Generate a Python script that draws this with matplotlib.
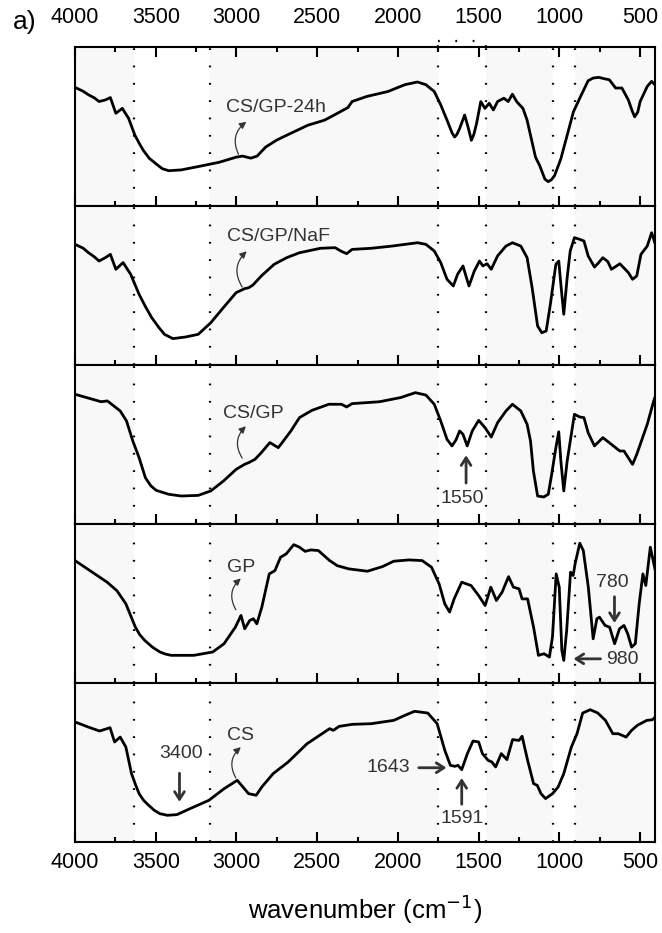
import matplotlib
matplotlib.use("Agg")
import matplotlib.pyplot as plt
from matplotlib.patches import FancyArrowPatch
from matplotlib.ticker import MultipleLocator

plt.rcParams['font.family'] = ['Liberation Sans', 'DejaVu Sans']

# ---------------- data (relative transmittance within each panel) ----------------
cs_gp24_wn = [4000, 3950, 3916, 3880, 3851, 3812, 3781, 3747, 3707, 3668, 3629, 3600, 3577, 3540, 3498,
              3460, 3420, 3342, 3237, 3107, 3002, 2963, 2911, 2872, 2819, 2750, 2689, 2558, 2454, 2375,
              2310, 2284, 2193, 2062, 1957, 1879, 1827, 1775, 1735, 1696, 1665, 1649, 1635, 1618, 1587,
              1566, 1545, 1530, 1513, 1487, 1461, 1435, 1409, 1383, 1344, 1317, 1291, 1265, 1226, 1200,
              1179, 1148, 1122, 1090, 1069, 1050, 1030, 991, 952, 913, 874, 822, 790, 756, 720, 691,
              652, 613, 573, 550, 534, 515, 500, 456, 429, 409]
cs_gp24_t = [0.746, 0.722, 0.699, 0.680, 0.657, 0.667, 0.682, 0.583, 0.614, 0.551, 0.445, 0.390, 0.350, 0.300, 0.265,
             0.235, 0.222, 0.227, 0.248, 0.275, 0.307, 0.314, 0.301, 0.314, 0.371, 0.415, 0.445, 0.508, 0.540, 0.583,
             0.619, 0.657, 0.689, 0.720, 0.763, 0.780, 0.763, 0.720, 0.636, 0.540, 0.460, 0.434, 0.450, 0.487, 0.572,
             0.498, 0.413, 0.450, 0.519, 0.657, 0.614, 0.646, 0.604, 0.657, 0.678, 0.657, 0.703, 0.657, 0.614, 0.540,
             0.445, 0.307, 0.254, 0.169, 0.153, 0.165, 0.191, 0.297, 0.445, 0.593, 0.678, 0.788, 0.805, 0.809, 0.800, 0.794,
             0.742, 0.742, 0.667, 0.600, 0.561, 0.590, 0.657, 0.752, 0.784, 0.763]

cs_gp_naf_wn = [4000, 3950, 3916, 3880, 3851, 3812, 3781, 3747, 3702, 3655, 3603, 3560, 3525, 3480, 3446,
                3394, 3316, 3237, 3159, 3081, 3002, 2950, 2924, 2898, 2846, 2767, 2689, 2610, 2480, 2389,
                2354, 2318, 2284, 2166, 2036, 1879, 1827, 1775, 1735, 1696, 1657, 1631, 1597, 1579, 1560,
                1527, 1495, 1474, 1448, 1422, 1383, 1331, 1291, 1239, 1200, 1169, 1135, 1109, 1082, 1056,
                1022, 1004, 991, 973, 952, 933, 907, 874, 848, 822, 783, 760, 731, 700, 678, 650, 626,
                600, 573, 547, 521, 495, 456, 429, 409]
cs_gp_naf_t = [0.759, 0.735, 0.706, 0.680, 0.654, 0.675, 0.696, 0.602, 0.644, 0.570, 0.444, 0.360, 0.298, 0.235, 0.193,
               0.166, 0.176, 0.193, 0.266, 0.361, 0.455, 0.480, 0.486, 0.503, 0.560, 0.633, 0.675, 0.706, 0.734, 0.738,
               0.717, 0.700, 0.727, 0.734, 0.748, 0.769, 0.759, 0.717, 0.644, 0.539, 0.497, 0.570, 0.623, 0.560, 0.497,
               0.591, 0.654, 0.623, 0.637, 0.602, 0.686, 0.748, 0.769, 0.748, 0.675, 0.486, 0.245, 0.203, 0.214, 0.382,
               0.633, 0.654, 0.507, 0.319, 0.549, 0.717, 0.801, 0.790, 0.780, 0.686, 0.616, 0.640, 0.675, 0.650, 0.602,
               0.620, 0.637, 0.610, 0.581, 0.539, 0.560, 0.696, 0.748, 0.832, 0.769]

cs_gp_wn = [4000, 3890, 3838, 3799, 3773, 3720, 3681, 3642, 3603, 3564, 3530, 3498, 3420, 3342, 3237,
            3159, 3081, 3002, 2950, 2924, 2885, 2846, 2793, 2741, 2663, 2610, 2532, 2428, 2349,
            2318, 2284, 2114, 1984, 1892, 1827, 1775, 1735, 1696, 1665, 1640, 1618, 1597, 1571, 1540,
            1500, 1461, 1422, 1383, 1331, 1291, 1239, 1200, 1179, 1161, 1135, 1096, 1069, 1048,
            1022, 1004, 991, 973, 952, 907, 874, 848, 822, 783, 731, 678, 626, 600, 547, 521,
            456, 416, 409]
cs_gp_t = [0.816, 0.784, 0.769, 0.774, 0.753, 0.711, 0.648, 0.522, 0.417, 0.291, 0.240, 0.212, 0.187, 0.176, 0.180,
           0.208, 0.270, 0.344, 0.375, 0.386, 0.407, 0.449, 0.512, 0.480, 0.585, 0.669, 0.715, 0.753, 0.753,
           0.736, 0.757, 0.769, 0.795, 0.826, 0.811, 0.753, 0.648, 0.532, 0.491, 0.530, 0.585, 0.564, 0.491, 0.585,
           0.652, 0.606, 0.547, 0.637, 0.711, 0.753, 0.711, 0.627, 0.522, 0.333, 0.176, 0.170, 0.187, 0.312,
           0.480, 0.580, 0.396, 0.208, 0.396, 0.690, 0.673, 0.669, 0.574, 0.491, 0.543, 0.501, 0.459, 0.459,
           0.375, 0.438, 0.627, 0.774, 0.795]

gp_wn = [4000, 3801, 3740, 3685, 3626, 3600, 3568, 3520, 3474, 3440, 3404, 3264, 3147, 3077, 3007, 2972,
         2949, 2918, 2895, 2874, 2843, 2797, 2762, 2727, 2692, 2645, 2610, 2575, 2540, 2493, 2423, 2376,
         2306, 2189, 2096, 2026, 1932, 1850, 1792, 1745, 1710, 1680, 1652, 1605, 1547, 1500, 1460, 1425,
         1390, 1355, 1315, 1285, 1250, 1231, 1197, 1160, 1130, 1095, 1062, 1043, 1020, 1001, 985, 973,
         955, 931, 915, 903, 874, 852, 821, 791, 768, 752, 717, 689, 658, 628, 600, 577, 553,
         530, 506, 483, 465, 437, 407]
gp_t = [0.770, 0.634, 0.580, 0.498, 0.351, 0.305, 0.268, 0.225, 0.195, 0.182, 0.174, 0.174, 0.195, 0.247, 0.351, 0.425,
        0.341, 0.393, 0.404, 0.372, 0.477, 0.686, 0.707, 0.791, 0.812, 0.870, 0.854, 0.828, 0.837, 0.833, 0.770, 0.738,
        0.718, 0.703, 0.732, 0.766, 0.774, 0.770, 0.728, 0.623, 0.498, 0.446, 0.529, 0.634, 0.613, 0.550, 0.487, 0.603,
        0.519, 0.571, 0.669, 0.603, 0.592, 0.529, 0.529, 0.351, 0.174, 0.184, 0.163, 0.289, 0.686, 0.603, 0.205, 0.142,
        0.331, 0.697, 0.676, 0.749, 0.879, 0.833, 0.603, 0.278, 0.404, 0.414, 0.362, 0.351, 0.247, 0.341, 0.362,
        0.310, 0.226, 0.247, 0.498, 0.686, 0.613, 0.854, 0.711]

cs_wn = [4000, 3918, 3848, 3801, 3783, 3755, 3720, 3685, 3650, 3625, 3603, 3575, 3544, 3510, 3474, 3428,
         3369, 3287, 3171, 3077, 2995, 2960, 2925, 2878, 2843, 2773, 2680, 2563, 2423, 2400, 2365, 2283,
         2166, 2026, 1956, 1897, 1815, 1757, 1710, 1675, 1647, 1628, 1605, 1570, 1535, 1500, 1477, 1442,
         1418, 1395, 1360, 1325, 1290, 1250, 1231, 1197, 1160, 1137, 1114, 1086, 1043, 1008, 973,
         926, 891, 856, 809, 762, 715, 669, 635, 587, 553, 517, 459, 423, 407]
cs_t = [0.755, 0.723, 0.698, 0.713, 0.719, 0.629, 0.660, 0.597, 0.430, 0.360, 0.304, 0.262, 0.231, 0.200, 0.178, 0.168,
        0.172, 0.210, 0.262, 0.335, 0.388, 0.346, 0.304, 0.294, 0.346, 0.430, 0.503, 0.618, 0.713, 0.702, 0.727, 0.740,
        0.744, 0.765, 0.797, 0.822, 0.811, 0.744, 0.577, 0.482, 0.476, 0.482, 0.455, 0.556, 0.635, 0.629, 0.556, 0.514,
        0.503, 0.472, 0.556, 0.518, 0.644, 0.639, 0.665, 0.514, 0.367, 0.356, 0.304, 0.273, 0.304, 0.346, 0.430,
        0.597, 0.681, 0.811, 0.832, 0.811, 0.765, 0.681, 0.681, 0.660, 0.702, 0.734, 0.765, 0.769, 0.786]

spectra = [(cs_gp24_wn, cs_gp24_t), (cs_gp_naf_wn, cs_gp_naf_t), (cs_gp_wn, cs_gp_t),
           (gp_wn, gp_t), (cs_wn, cs_t)]
sample_labels = ['CS/GP-24h', 'CS/GP/NaF', 'CS/GP', 'GP', 'CS']
# (text x, text y, arrow start x, arrow start y, arrow end x, arrow end y)
label_pos = [(2754, 0.62, 2980, 0.31, 2925, 0.54),
             (2741, 0.81, 2955, 0.476, 2924, 0.727),
             (2898, 0.694, 2955, 0.40, 2929, 0.627),
             (2972, 0.728, 2995, 0.446, 2960, 0.669),
             (2972, 0.671, 2995, 0.388, 2960, 0.608)]
dotted_wn = [3634, 3164, 1753, 1455, 1042, 904]

# ---------------- figure ----------------
W, H = 662, 933
fig = plt.figure(figsize=(W / 100, H / 100), dpi=100)
left, right = 75 / W, 655 / W
top, bottom = 1 - 47 / H, 1 - 842 / H
gs = fig.add_gridspec(5, 1, left=left, right=right, top=top, bottom=bottom, hspace=0)
axes = [fig.add_subplot(gs[i]) for i in range(5)]

ann_color = '#333333'
for i, ax in enumerate(axes):
    wn, t = spectra[i]
    ax.set_facecolor('#f8f8f8')
    for a, b in [(dotted_wn[0], dotted_wn[1]), (dotted_wn[2], dotted_wn[3]), (dotted_wn[4], dotted_wn[5])]:
        ax.axvspan(b, a, color='white', zorder=0.5, lw=0)
    for d in dotted_wn:
        ax.axvline(d, color='black', lw=1.6, linestyle=(0, (0.8, 7)), zorder=1)
    ax.plot(wn, t, color='black', lw=2.0, zorder=3, solid_joinstyle='round')
    ax.set_xlim(4000, 408)
    ax.set_ylim(0, 1)
    ax.set_yticks([])
    ax.xaxis.set_major_locator(MultipleLocator(500))
    ax.xaxis.set_minor_locator(MultipleLocator(250))
    ax.tick_params(axis='x', which='major', direction='in', length=7, width=1.5,
                   top=(i == 0), bottom=True, labeltop=(i == 0), labelbottom=(i == 4),
                   labelsize=15.5, pad=7)
    ax.tick_params(axis='x', which='minor', direction='in', length=3.5, width=1.5,
                   top=(i == 0), bottom=True)
    for s in ax.spines.values():
        s.set_linewidth(1.5)
    tx, ty, ax0, ay0, ax1, ay1 = label_pos[i]
    ax.text(tx, ty, sample_labels[i], fontsize=14, color=ann_color, ha='center', va='center', zorder=4)
    arr = FancyArrowPatch((ax0, ay0), (ax1, ay1), connectionstyle='arc3,rad=-0.45',
                          arrowstyle='-|>,head_length=4,head_width=2', lw=0.9, color=ann_color, zorder=4)
    ax.add_patch(arr)

axes[0].tick_params(axis='x', which='major', pad=14)

straight = dict(arrowstyle='->,head_length=0.55,head_width=0.35', lw=2.0, color=ann_color)
# panel 3: 1550
axes[2].annotate('', xy=(1578, 0.45), xytext=(1578, 0.24), arrowprops=straight, zorder=5)
axes[2].text(1600, 0.16, '1550', fontsize=14, color=ann_color, ha='center', va='center')
# panel 4: 780, 980
axes[3].annotate('', xy=(659, 0.36), xytext=(659, 0.56), arrowprops=straight, zorder=5)
axes[3].text(671, 0.63, '780', fontsize=14, color=ann_color, ha='center', va='center')
axes[3].annotate('', xy=(930, 0.152), xytext=(728, 0.152), arrowprops=straight, zorder=5)
axes[3].text(612, 0.145, '980', fontsize=14, color=ann_color, ha='center', va='center')
# panel 5: 3400, 1643, 1591
axes[4].annotate('', xy=(3353, 0.235), xytext=(3353, 0.45), arrowprops=straight, zorder=5)
axes[4].text(3346, 0.556, '3400', fontsize=14, color=ann_color, ha='center', va='center')
axes[4].annotate('', xy=(1682, 0.467), xytext=(1888, 0.467), arrowprops=straight, zorder=5)
axes[4].text(2061, 0.467, '1643', fontsize=14, color=ann_color, ha='center', va='center')
axes[4].annotate('', xy=(1605, 0.42), xytext=(1605, 0.22), arrowprops=straight, zorder=5)
axes[4].text(1605, 0.145, '1591', fontsize=14, color=ann_color, ha='center', va='center')

# dotted extension above the top panel between 1753 and 1455
axes[0].plot([1753, 1455], [1.035, 1.035], color='black', lw=1.6, linestyle=(0, (0.8, 7)),
             clip_on=False, zorder=1)
for d in (1753, 1455):
    axes[0].plot([d, d], [1.0, 1.035], color='black', lw=1.6, linestyle=(0, (0.8, 7)),
                 clip_on=False, zorder=1)

axes[4].set_xlabel('wavenumber (cm$^{-1}$)', fontsize=18.5, labelpad=14)
fig.text(13 / W, 1 - 22 / H, 'a)', fontsize=19, ha='left', va='center')

fig.savefig('out.png', dpi=100)
